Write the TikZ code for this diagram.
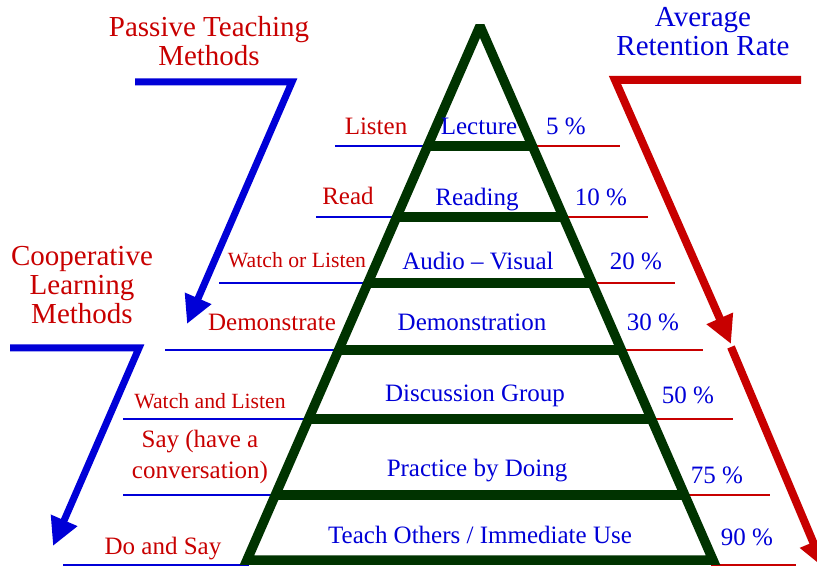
\documentclass[tikz,border=0pt]{standalone}
\usepackage{fontspec}
\setmainfont{Liberation Serif}
\usetikzlibrary{arrows.meta,calc}
\definecolor{textred}{RGB}{200,0,0}
\definecolor{textblue}{RGB}{0,0,215}
\definecolor{pyrgreen}{RGB}{0,51,0}

\begin{document}
\begin{tikzpicture}[x=1pt,y=-1pt,
        head/.style={font=\fontsize{29}{29}\selectfont,align=center,inner sep=0pt,anchor=north},
        lbl/.style={font=\fontsize{25}{31}\selectfont,inner sep=0pt,anchor=base},
        smalllbl/.style={font=\fontsize{21.7}{26}\selectfont,inner sep=0pt,anchor=base},
        wall/.style={pyrgreen,line width=9.5pt},
        underline/.style={line width=2.2pt},
        bigarrow/.style={line width=7pt,line join=miter,-{Triangle[length=28pt,width=27pt]}}]

        \clip (0,0) rectangle (817,569);

        \coordinate (apex) at (480,26);
        \coordinate (bl) at (247,560);
        \coordinate (br) at (713,560);

        \foreach \y/\xl/\xr in {146/335/620,217/316/648,283/219/675,350/165/703,419/123/733,495/123/770} {
            \pgfmathsetmacro\dx{0.436*(\y-26)}
            \draw[underline,textblue] (\xl,\y) -- (480-\dx,\y);
            \draw[underline,textred] (480+\dx,\y) -- (\xr,\y);
            \draw[wall] (480-\dx,\y) -- (480+\dx,\y);
        }
        \draw[underline,textblue] (63,565) -- ($(bl)+(2,5)$);
        \draw[underline,textred] ($(br)+(-2,5)$) -- (796,565);
        \draw[wall,line join=miter,miter limit=2] (apex) -- (br) -- (bl) -- cycle;

        \node[head,textred] (passive) at (209,16) {Passive Teaching\\Methods};
        \node[head,textblue] (average) at (703,7) {Average\\Retention Rate};
        \node[head,textred] (coop) at (82,246) {Cooperative\\Learning\\Methods};

        \draw[bigarrow,textblue] (135,82) -- (292,82) -- (187,324);
        \draw[bigarrow,textblue] (10,348) -- (139,348) -- (53,546);
        \draw[bigarrow,textred,line width=8pt] (801,80) -- (615,80) -- (731,344);
        \draw[bigarrow,textred,line width=8pt] (731,347) -- (824,568);

        \node[lbl,textred] (listen) at (376,135) {Listen};
        \node[lbl,textred] (read) at (348,205) {Read};
        \node[smalllbl,textred] (watchor) at (297,268) {Watch or Listen};
        \node[lbl,textred] (demonstrate) at (272,331) {Demonstrate};
        \node[smalllbl,textred] (watchand) at (210,408) {Watch and Listen};
        \node[lbl,textred,align=center,anchor=north] (say) at (200,430) {Say (have a\\conversation)};
        \node[lbl,textred] (doandsay) at (163,554) {Do and Say};

        \node[lbl,textblue] (lecture) at (479,135) {Lecture};
        \node[lbl,textblue] (reading) at (477,206) {Reading};
        \node[lbl,textblue] (audio) at (478,270) {Audio -- Visual};
        \node[lbl,textblue] (demo) at (472,331) {Demonstration};
        \node[lbl,textblue] (discussion) at (475,402) {Discussion Group};
        \node[lbl,textblue] (practice) at (477,476) {Practice by Doing};
        \node[lbl,textblue] (teach) at (480,543) {Teach Others / Immediate Use};

        \node[lbl,textblue] (p5) at (566,135) {5 \%};
        \node[lbl,textblue] (p10) at (601,206) {10 \%};
        \node[lbl,textblue] (p20) at (636,270) {20 \%};
        \node[lbl,textblue] (p30) at (653,331) {30 \%};
        \node[lbl,textblue] (p50) at (688,403) {50 \%};
        \node[lbl,textblue] (p75) at (717,483) {75 \%};
        \node[lbl,textblue] (p90) at (747,545) {90 \%};
    \end{tikzpicture}
\end{document}
